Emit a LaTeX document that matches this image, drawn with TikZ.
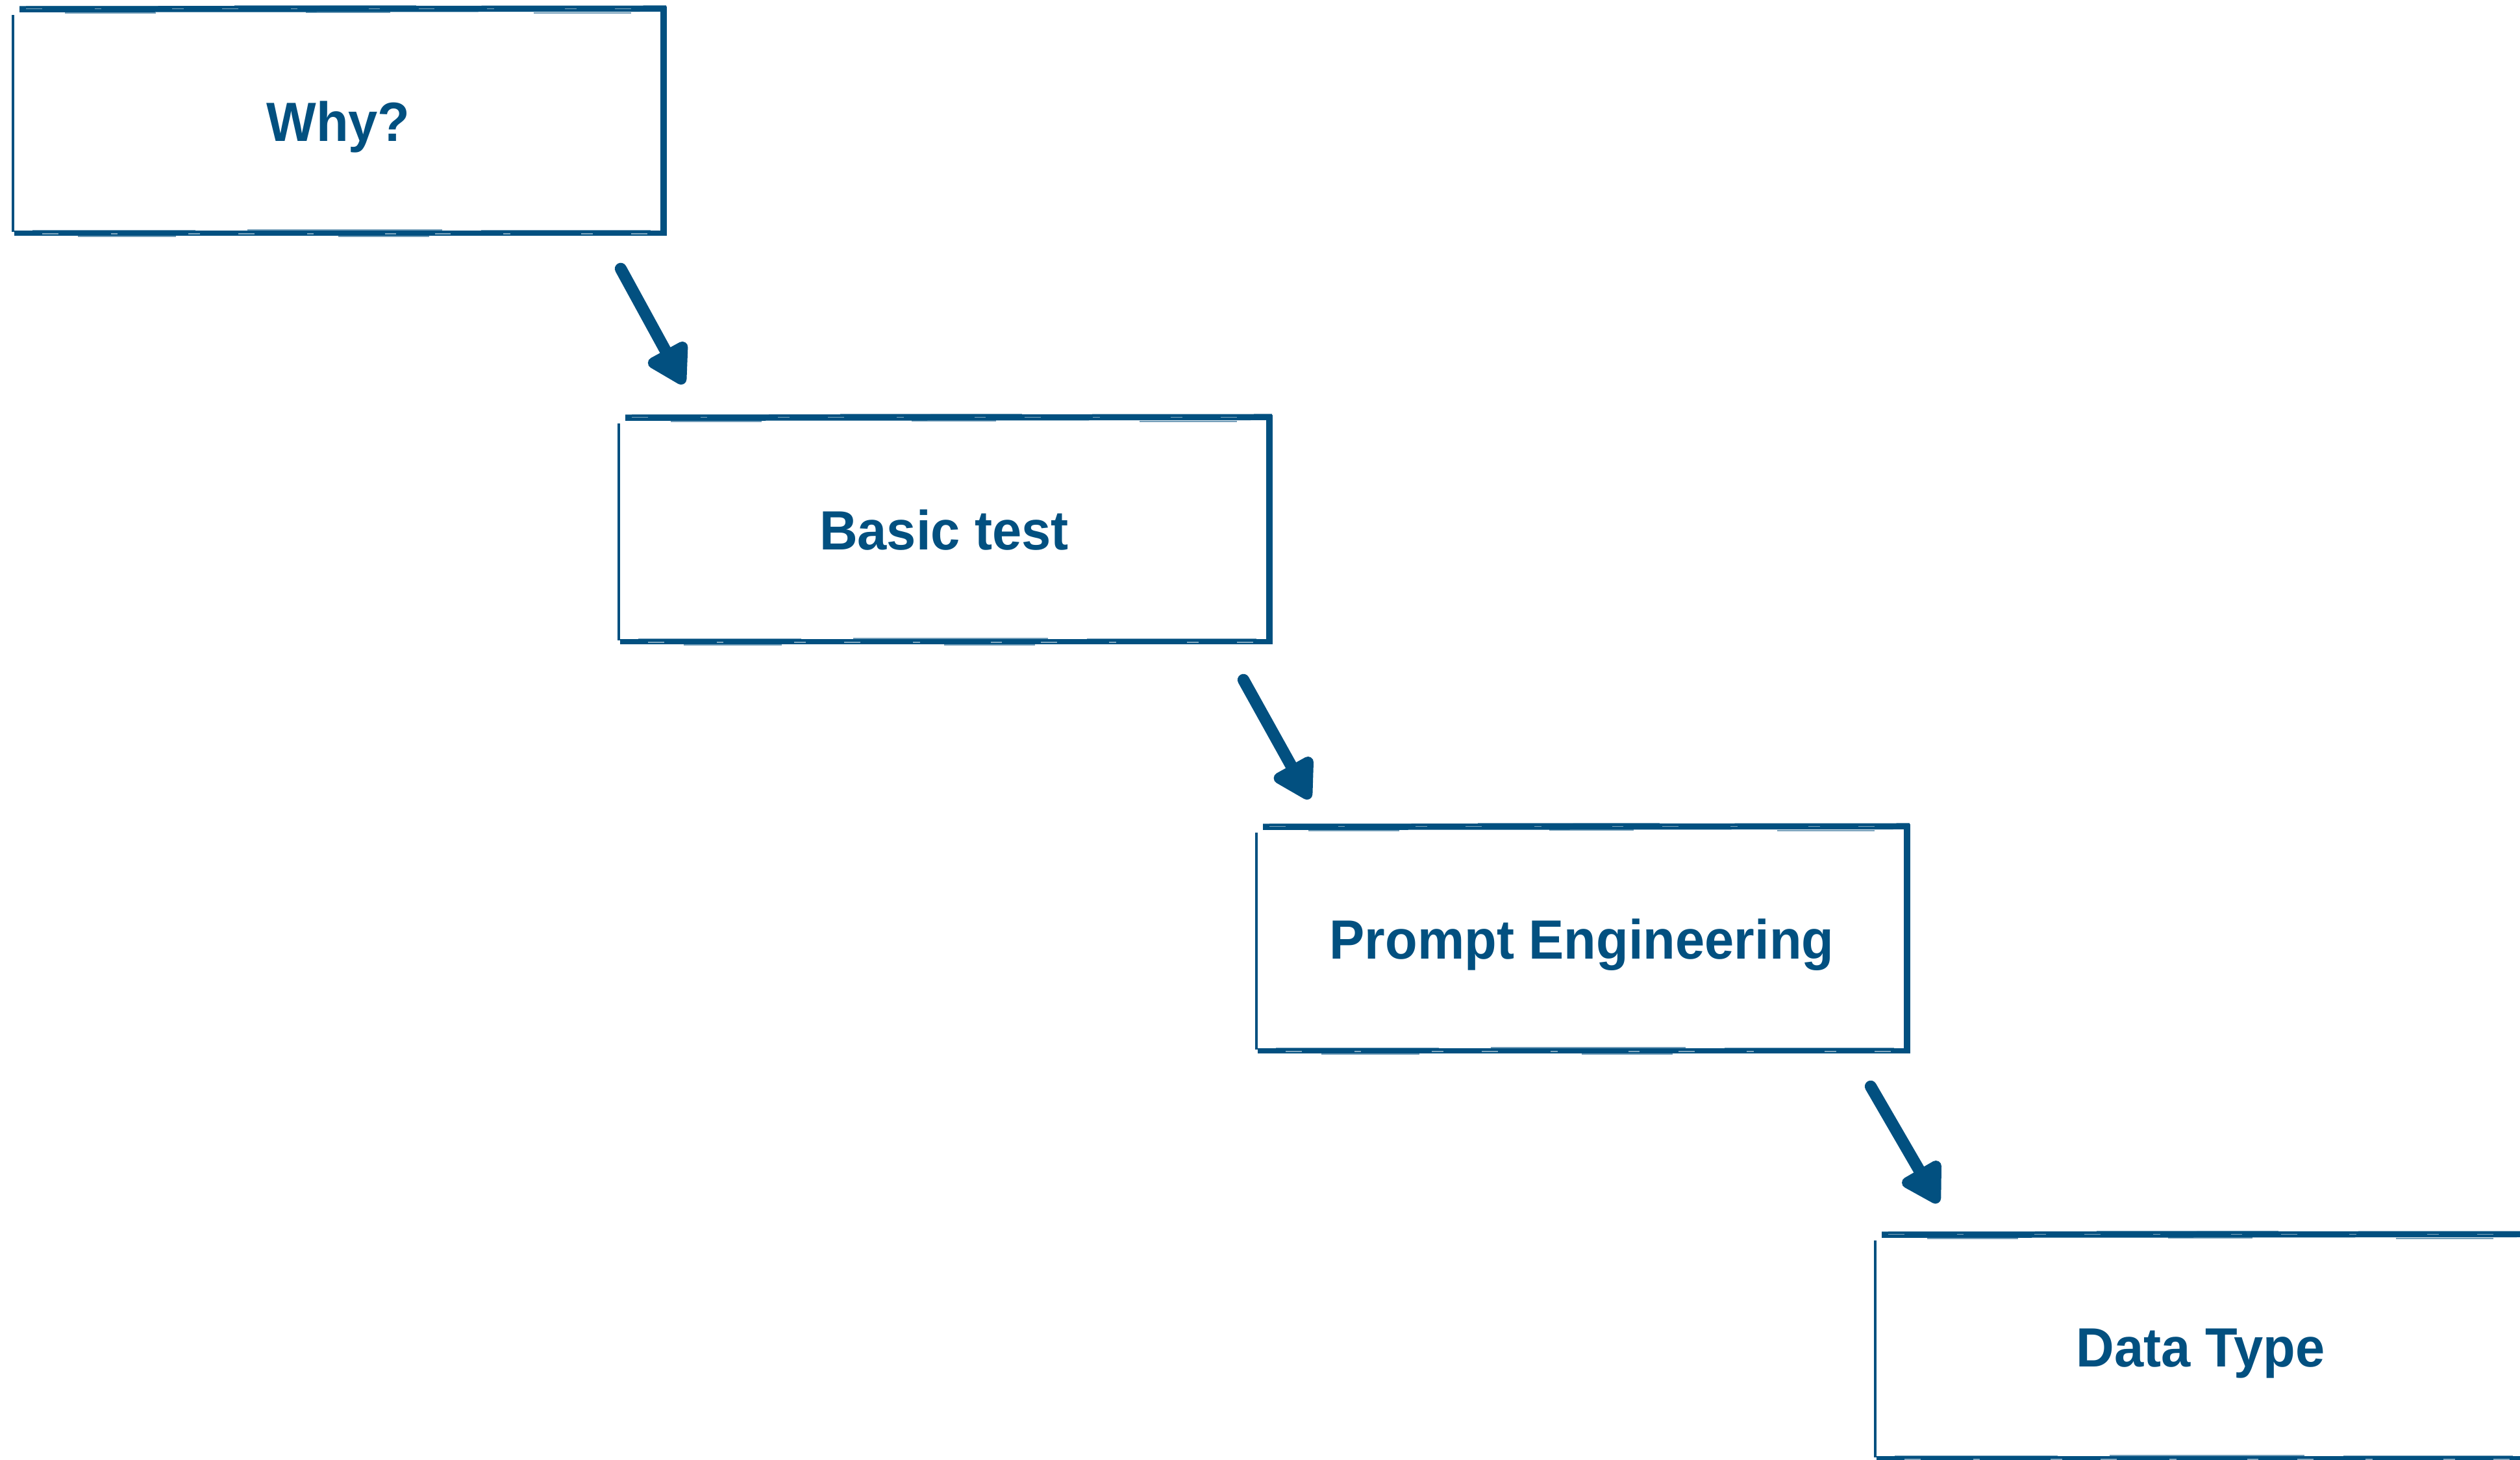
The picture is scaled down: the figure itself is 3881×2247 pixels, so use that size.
\documentclass[tikz,border=0pt]{standalone}
\usepackage{fontspec}
\setmainfont{Liberation Sans}[FakeStretch=0.955]
\usetikzlibrary{arrows.meta,calc}

\definecolor{ink}{RGB}{2,80,128}

\tikzset{
  stage/.style={minimum width=10.0cm, minimum height=3.42cm, inner sep=0pt,
    text height=0.61cm, text depth=0pt, text=ink,
    font=\fontsize{24.2pt}{29pt}\selectfont\bfseries},
  rim/.style={draw=ink, line cap=butt},
  streak/.style={draw=ink, line width=0.7pt, opacity=0.55},
  speck/.style={draw=white, line width=0.4pt, opacity=0.5,
    dash pattern=on 7pt off 23pt on 3pt off 31pt on 5pt off 17pt},
  flow/.style={draw=ink, line width=5.2pt, line cap=round,
    -{Triangle[length=19.5pt, width=21.5pt, round]}},
}

% hand-brushed frame around a stage node
\newcommand\roughframe[1]{%
  \draw[rim, line width=2.7pt] ($(#1.north west)+(10,-1)$) -- ($(#1.north east)+(4,-2)$);
  \draw[rim, line width=2.8pt] ($(#1.north east)+(0,-5)$) -- ($(#1.south east)+(0,4)$);
  \draw[rim, line width=2.3pt] ($(#1.south west)+(2,0)$) -- ($(#1.south east)+(4,0)$);
  \draw[rim, line width=1.1pt] ($(#1.north west)+(0,8)$) -- ($(#1.south west)+(0,-2)$);
  \foreach \a/\b/\d in {0.02/0.30/-5, 0.34/0.62/-6, 0.70/0.97/-5, 0.08/0.22/5, 0.45/0.58/4, 0.80/0.95/5} {
    \draw[streak] ($(#1.north west)!\a!(#1.north east)+(0,\d)$) -- ($(#1.north west)!\b!(#1.north east)+(0,\d)$);
  }
  \foreach \a/\b/\d in {0.03/0.28/-4, 0.36/0.66/-5, 0.72/0.98/-4, 0.10/0.25/5, 0.50/0.64/5} {
    \draw[streak] ($(#1.south west)!\a!(#1.south east)+(0,\d)$) -- ($(#1.south west)!\b!(#1.south east)+(0,\d)$);
  }
  \draw[speck] ($(#1.north west)+(20,-2)$) -- ($(#1.north east)+(-10,-2)$);
  \draw[speck] ($(#1.south west)+(45,1)$) -- ($(#1.south east)+(-10,1)$);
}

\begin{document}
\begin{tikzpicture}[x=0.01cm, y=-0.01cm]
  \useasboundingbox[fill=white] (0,0) rectangle (3881,2247);

  % stages
  \node[stage] (why)    at (521,187)   {Why?};
  \node[stage] (basic)  at (1454,816)  {Basic test};
  \node[stage] (prompt) at (2436,1446) {Prompt Engineering};
  \node[stage] (data)   at (3389,2074) {Data Type};

  \roughframe{why}
  \roughframe{basic}
  \roughframe{prompt}
  \roughframe{data}

  % arrow ends
  \coordinate (t1) at ($(why.south east)+(-66,55)$);
  \coordinate (h1) at ($(basic.north west)+(100,-53)$);
  \coordinate (t2) at ($(basic.south east)+(-40,59)$);
  \coordinate (h2) at ($(prompt.north west)+(82,-44)$);
  \coordinate (t3) at ($(prompt.south east)+(-56,55)$);
  \coordinate (h3) at ($(data.north west)+(97,-50)$);

  \draw[flow] (t1) -- (h1);
  \draw[flow] (t2) -- (h2);
  \draw[flow] (t3) -- (h3);
\end{tikzpicture}
\end{document}
